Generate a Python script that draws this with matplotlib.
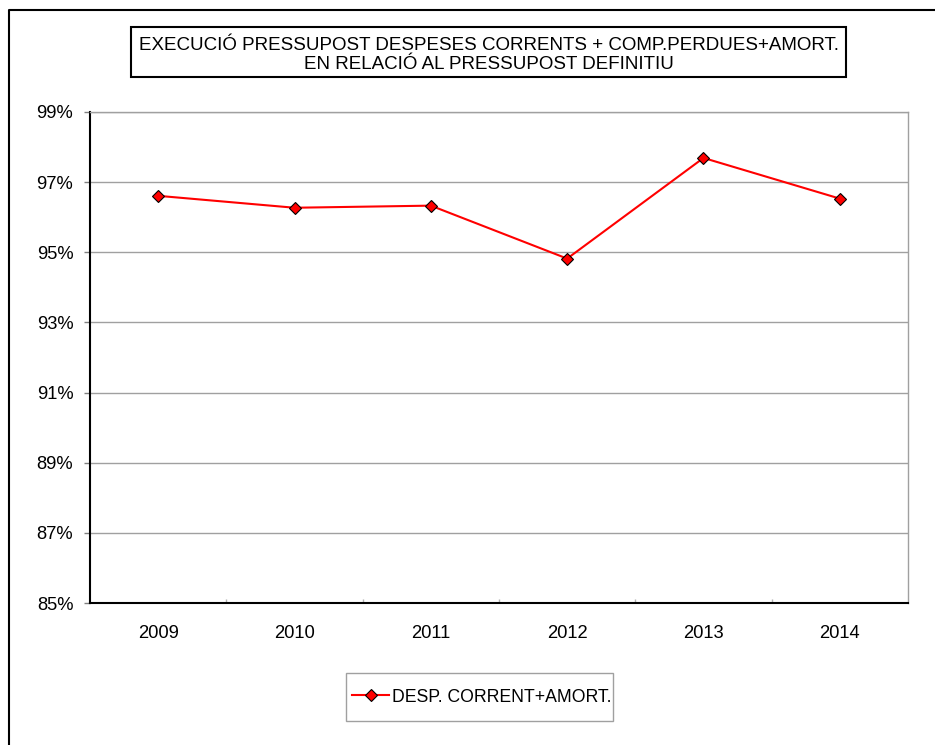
import matplotlib
matplotlib.use("Agg")
import matplotlib.pyplot as plt
from matplotlib.lines import Line2D
from matplotlib.patches import Rectangle
from matplotlib.ticker import FixedLocator, FuncFormatter

plt.rcParams['font.family'] = ['Liberation Sans', 'DejaVu Sans']

# data (percent of final budget executed)
years = ['2009', '2010', '2011', '2012', '2013', '2014']
execucio = [96.61, 96.27, 96.33, 94.82, 97.69, 96.53]
y_ticks = [85, 87, 89, 91, 93, 95, 97, 99]

title_lines = ['EXECUCIÓ PRESSUPOST DESPESES CORRENTS + COMP.PERDUES+AMORT.',
               'EN RELACIÓ AL PRESSUPOST DEFINITIU']
series_label = 'DESP. CORRENT+AMORT.'

W, H = 935, 745
fig = plt.figure(figsize=(W / 100, H / 100), dpi=100)

def fx(px):
    return px / W

def fy(py):
    return 1 - py / H

# outer chart frame (only left and top visible)
fig.add_artist(Line2D([fx(8.5), fx(8.5), fx(935)], [fy(745), fy(10), fy(10)],
                      color='black', lw=1.5, transform=fig.transFigure))

# title box
fig.add_artist(Rectangle((fx(131), fy(77)), fx(846) - fx(131), fy(27) - fy(77),
                         transform=fig.transFigure, facecolor='white',
                         edgecolor='black', lw=1.5))
fig.text(fx(489), fy(55), '\n'.join(title_lines), ha='center', va='center',
         fontsize=13.5, linespacing=1.12)

ax = fig.add_axes([fx(90), fy(603), fx(908) - fx(90), fy(112) - fy(603)])
x = list(range(len(years)))
ax.plot(x, execucio, color='red', lw=1.5, marker='D', markersize=6.5,
        markerfacecolor='red', markeredgecolor='black', markeredgewidth=0.8,
        label=series_label, zorder=3)

ax.set_xlim(-0.5, len(years) - 0.5)
ax.set_ylim(85, 99)
ax.set_yticks(y_ticks)
ax.yaxis.set_major_formatter(FuncFormatter(lambda v, p: '%d%%' % v))
ax.set_xticks(x)
ax.set_xticklabels(years)
ax.xaxis.set_minor_locator(FixedLocator([i + 0.5 for i in range(len(years) - 1)]))

ax.grid(axis='y', color='#a0a0a0', lw=1)
ax.set_axisbelow(True)
ax.tick_params(axis='y', direction='out', length=4, width=1, color='#808080',
               labelsize=13.2, pad=8)
ax.tick_params(axis='x', which='major', length=0, labelsize=13.2, pad=16.2)
ax.tick_params(axis='x', which='minor', direction='in', length=3, width=1,
               color='#b0b0b0')

for s in ['left', 'bottom']:
    ax.spines[s].set_color('black')
    ax.spines[s].set_linewidth(1.5)
for s in ['top', 'right']:
    ax.spines[s].set_color('#a0a0a0')
    ax.spines[s].set_linewidth(1)

# legend: frame drawn separately (Excel box is tight left/right, tall top/bottom)
fig.add_artist(Rectangle((fx(346), fy(721)), fx(613) - fx(346), fy(673) - fy(721),
                         transform=fig.transFigure, facecolor='white',
                         edgecolor='#a0a0a0', lw=1))
leg = fig.legend(loc='center', bbox_to_anchor=(fx(482), fy(697)), fontsize=12.7,
                 frameon=False, handlelength=2.1, handletextpad=0.15,
                 borderpad=0, borderaxespad=0)

fig.savefig('out.png', dpi=100)
